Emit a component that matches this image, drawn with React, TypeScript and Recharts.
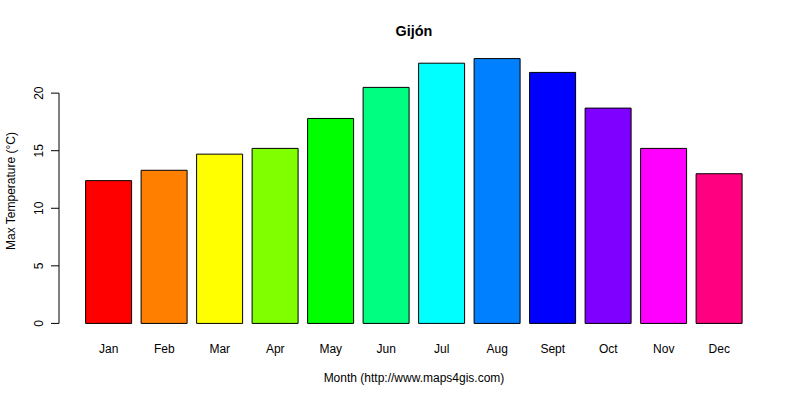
import { BarChart, Bar, Cell, XAxis, YAxis, ReferenceLine } from "recharts";

// Gijón, monthly max temperature
const MONTHS = ["Jan", "Feb", "Mar", "Apr", "May", "Jun", "Jul", "Aug", "Sept", "Oct", "Nov", "Dec"];
const MAX_TEMP = [12.4, 13.3, 14.7, 15.2, 17.8, 20.5, 22.6, 23.0, 21.8, 18.7, 15.2, 13.0];
const Y_TICKS = [0, 5, 10, 15, 20];

// R's rainbow(12)
const COLORS = [
  "#FF0000", "#FF8000", "#FFFF00", "#80FF00", "#00FF00", "#00FF80",
  "#00FFFF", "#0080FF", "#0000FF", "#8000FF", "#FF00FF", "#FF0080",
];

const FONT = '"Liberation Sans", Arial, Helvetica, sans-serif';

const data = MONTHS.map((month, i) => ({ month, temp: MAX_TEMP[i] }));

function YTick({ x, y, payload }: any) {
  const tx = x - 8;
  return (
    <text
      x={tx}
      y={y}
      transform={`rotate(-90, ${tx}, ${y})`}
      textAnchor="middle"
      fontSize={12}
      fill="#000"
      fontFamily={FONT}
    >
      {payload.value}
    </text>
  );
}

function YTitle({ viewBox }: any) {
  const cx = 15;
  const cy = viewBox.y + viewBox.height / 2;
  return (
    <text
      x={cx}
      y={cy}
      transform={`rotate(-90, ${cx}, ${cy})`}
      textAnchor="middle"
      fontSize={12}
      fill="#000"
      fontFamily={FONT}
    >
      Max Temperature (°C)
    </text>
  );
}

function XTitle({ viewBox }: any) {
  return (
    <text
      x={viewBox.x + viewBox.width / 2}
      y={382}
      textAnchor="middle"
      fontSize={12}
      fill="#000"
      fontFamily={FONT}
    >
      Month (http://www.maps4gis.com)
    </text>
  );
}

export default function App() {
  return (
    <div style={{ position: "absolute", left: 0, top: 0, width: 800, height: 400, background: "#fff", fontFamily: FONT }}>
      <div
        style={{
          position: "absolute",
          left: 314,
          top: 22,
          width: 200,
          textAlign: "center",
          fontWeight: "bold",
          fontSize: 14.4,
          lineHeight: "18px",
          color: "#000",
        }}
      >
        Gijón
      </div>
      <BarChart
        width={800}
        height={400}
        data={data}
        margin={{ top: 48, right: 31, left: 0, bottom: 0 }}
        barCategoryGap="8.3%"
      >
        <XAxis
          dataKey="month"
          height={66}
          interval={0}
          padding={{ left: 22, right: 22 }}
          axisLine={false}
          tickLine={false}
          tickSize={0}
          tickMargin={10}
          tick={{ fill: "#000", fontSize: 12 }}
          label={{ content: <XTitle /> }}
        />
        <XAxis xAxisId="n" type="number" domain={[0, 1]} allowDataOverflow hide />
        <YAxis
          width={59}
          type="number"
          domain={[-0.92, 23.92]}
          allowDataOverflow
          ticks={Y_TICKS}
          interval={0}
          axisLine={false}
          tickLine={{ stroke: "#000" }}
          tickSize={8}
          tickMargin={0}
          tick={<YTick />}
          label={{ content: <YTitle /> }}
        />
        <ReferenceLine
          xAxisId="n"
          segment={[{ x: 0, y: 0 }, { x: 0, y: 20 }]}
          stroke="#000"
          strokeWidth={1}
          ifOverflow="visible"
        />
        <Bar dataKey="temp" stroke="#000" strokeWidth={1} isAnimationActive={false}>
          {data.map((d, i) => (
            <Cell key={d.month} fill={COLORS[i]} />
          ))}
        </Bar>
      </BarChart>
    </div>
  );
}
